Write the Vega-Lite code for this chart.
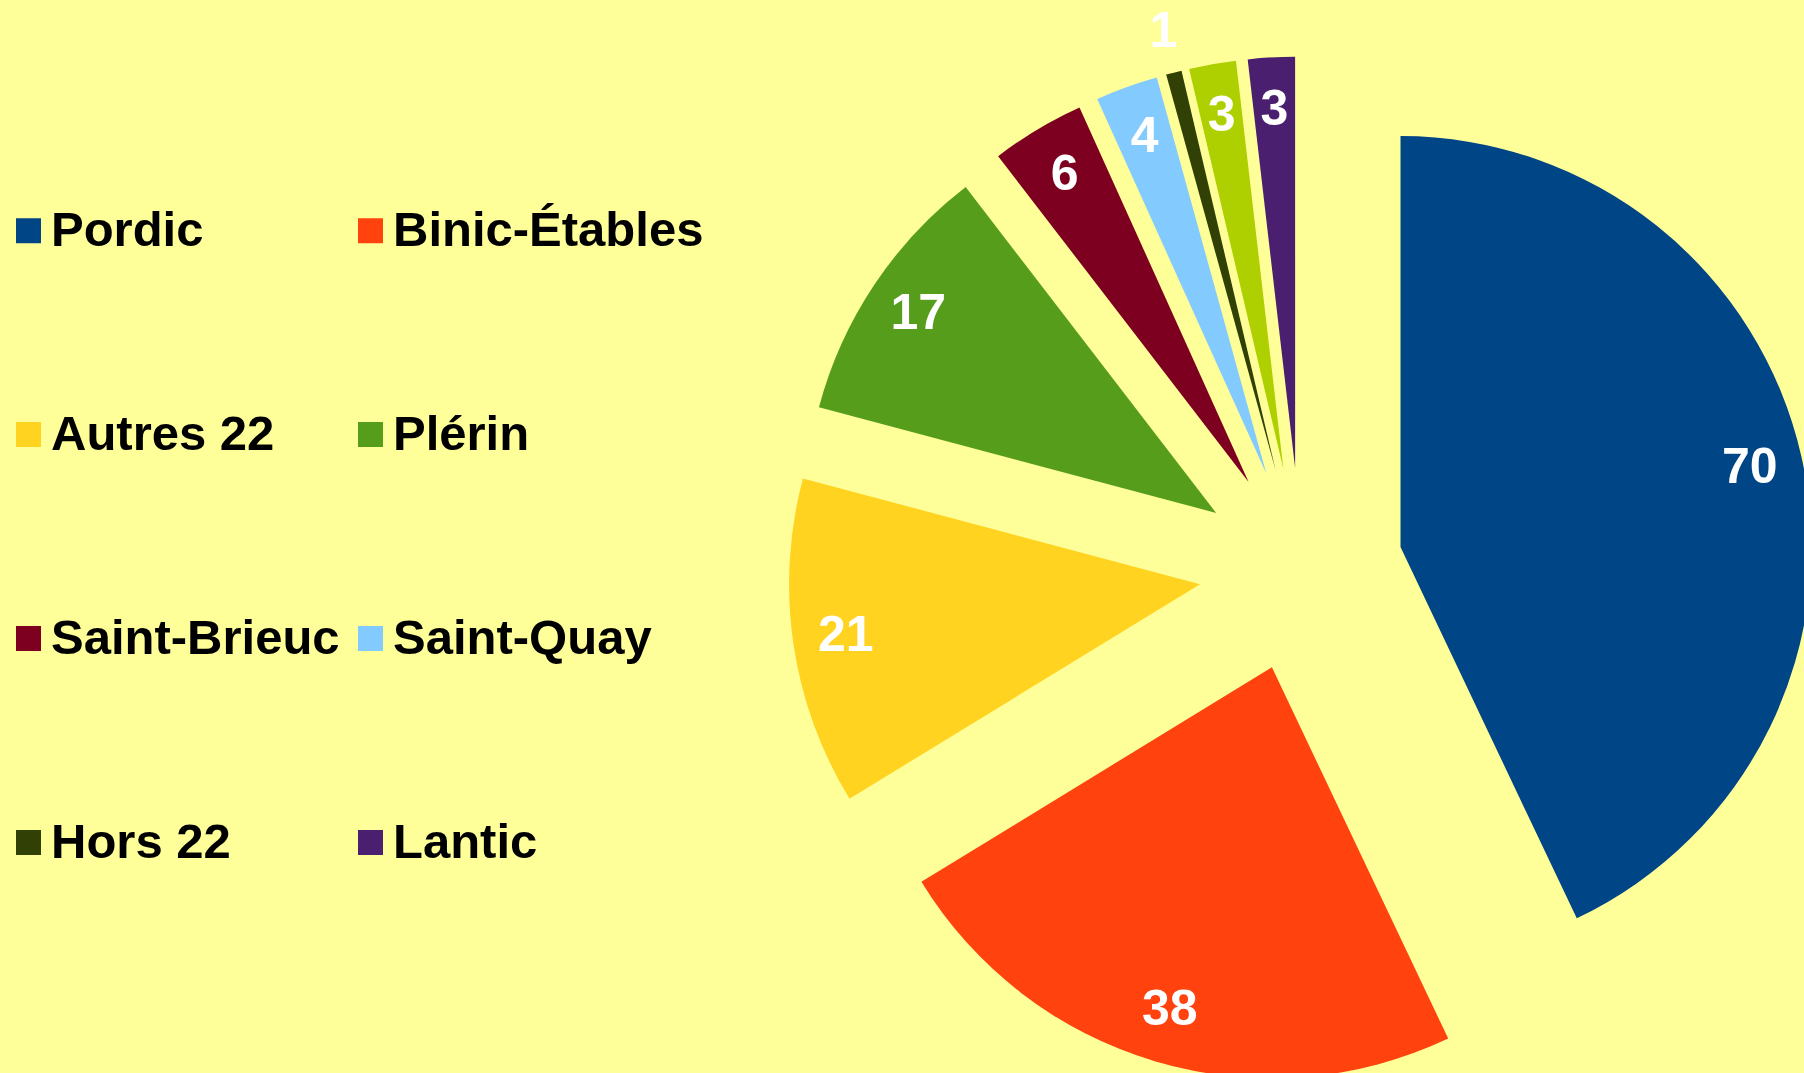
{
  "$schema": "https://vega.github.io/schema/vega-lite/v6.json",
  "width": 1006,
  "height": 1007,
  "autosize": {"type": "none"},
  "padding": {"left": 798, "top": 66, "right": 0, "bottom": 0},
  "background": "#ffff99",
  "config": {"view": {"stroke": null}},
  "data": {
    "values": [
      {"idx": 1, "name": "Pordic", "value": 70},
      {"idx": 2, "name": "Binic-Étables", "value": 38},
      {"idx": 3, "name": "Autres 22", "value": 21},
      {"idx": 4, "name": "Plérin", "value": 17},
      {"idx": 5, "name": "Saint-Brieuc", "value": 6},
      {"idx": 6, "name": "Saint-Quay", "value": 4},
      {"idx": 7, "name": "Hors 22", "value": 1},
      {"idx": 8, "name": "Tréveneuc", "value": 3},
      {"idx": 9, "name": "Lantic", "value": 3}
    ]
  },
  "encoding": {
    "theta": {"field": "value", "type": "quantitative", "stack": true},
    "order": {"field": "idx", "type": "quantitative"}
  },
  "layer": [
    {
      "mark": {
        "type": "arc",
        "outerRadius": 411,
        "x": {"expr": "width/2 + 102*sin((scale('theta', datum.value_start) + scale('theta', datum.value_end))/2)"},
        "y": {"expr": "height/2 - 102*cos((scale('theta', datum.value_start) + scale('theta', datum.value_end))/2)"}
      },
      "encoding": {
        "color": {
          "field": "name",
          "type": "nominal",
          "scale": {
            "domain": ["Pordic", "Binic-Étables", "Autres 22", "Plérin", "Saint-Brieuc", "Saint-Quay", "Hors 22", "Tréveneuc", "Lantic"],
            "range": ["#004586", "#ff420e", "#ffd320", "#579d1c", "#7e0021", "#83caff", "#314004", "#aecf00", "#4b1f6f"]
          },
          "legend": {
            "values": ["Pordic", "Binic-Étables", "Autres 22", "Plérin", "Saint-Brieuc", "Saint-Quay", "Hors 22", "Lantic"],
            "title": null,
            "orient": "none",
            "direction": "horizontal",
            "legendX": -794,
            "legendY": 140,
            "columns": 2,
            "padding": 0,
            "symbolType": "square",
            "symbolSize": 625,
            "symbolStrokeWidth": 0,
            "labelFont": "Liberation Sans",
            "labelFontWeight": "bold",
            "labelFontSize": 49,
            "labelColor": "#000000",
            "labelLimit": 500,
            "labelOffset": -2,
            "columnPadding": 6,
            "rowPadding": 154
          }
        }
      }
    },
    {
      "mark": {
        "type": "text",
        "font": "Liberation Sans",
        "fontWeight": "bold",
        "fontSize": 50,
        "color": "#ffffff",
        "align": "center",
        "baseline": "middle",
        "radius": {"expr": "datum.value < 2 ? 453 : 358"},
        "x": {"expr": "width/2 + 102*sin((scale('theta', datum.value_start) + scale('theta', datum.value_end))/2)"},
        "y": {"expr": "height/2 - 102*cos((scale('theta', datum.value_start) + scale('theta', datum.value_end))/2)"}
      },
      "encoding": {
        "text": {"field": "value", "type": "quantitative"}
      }
    }
  ]
}
